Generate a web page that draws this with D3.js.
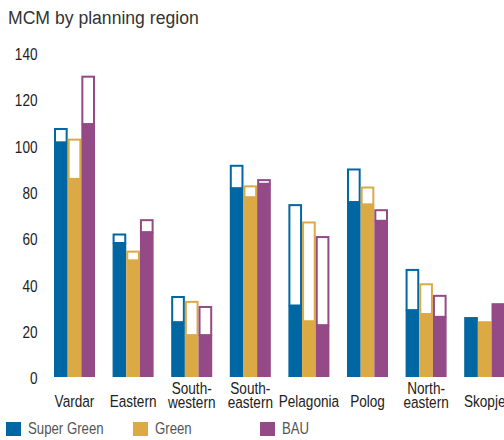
<!DOCTYPE html>
<html><head><meta charset="utf-8">
<script src="https://cdn.jsdelivr.net/npm/d3@7"></script>
<style>
html,body{margin:0;padding:0;background:#fff;}
svg{display:block;}
.narrow text{font-family:"Liberation Sans",Arial,sans-serif;}
</style></head>
<body>
<svg id="chart" width="504" height="440"></svg>
<script>
const regions = [["Vardar"],["Eastern"],["South-","western"],["South-","eastern"],["Pelagonia"],["Polog"],["North-","eastern"],["Skopje"]];
const seriesNames = ["Super Green","Green","BAU"];
const seriesColors = ["#0067a3","#dcaa45","#934a86"];
// filled (lower) values
const superGreenBase = [101.4, 57.9, 23.7, 81.6, 30.9, 75.6, 28.9, 25.9];
const greenBase      = [85.6, 50.4, 18.1, 77.7, 24.1, 74.6, 27.2, 24.1];
const bauBase        = [109.3, 62.6, 18.1, 83.5, 22.4, 67.5, 26.0, 31.9];
// outlined (upper) values
const superGreenTop  = [107.6, 62.0, 35.0, 91.7, 74.7, 90.1, 46.7, null];
const greenTop       = [103.0, 54.6, 32.9, 82.8, 67.2, 82.3, 40.5, null];
const bauTop         = [130.2, 68.2, 30.7, 85.5, 60.9, 72.5, 35.5, null];
const yTicks = [0,20,40,60,80,100,120,140];
const title = "MCM by planning region";

const bases = [superGreenBase, greenBase, bauBase];
const tops = [superGreenTop, greenTop, bauTop];
const SX = 0.8;

const svg = d3.select("#chart");
const x0 = d3.scaleBand().domain(d3.range(regions.length)).range([45.2, 45.2 + 58.6*8]).paddingInner(0.3).paddingOuter(0.15);
const x1 = d3.scaleBand().domain(d3.range(3)).range([0, x0.bandwidth()]);
const y = d3.scaleLinear().domain([0,140]).range([377, 53]);

svg.append("text").attr("x",8).attr("y",24).attr("fill","#333")
  .style("font-family","'Liberation Sans',Arial,sans-serif").style("font-size","17.6px").text(title);

function narrowText(parent, x, yy, str, anchor, color, size) {
  parent.append("g").attr("class","narrow").attr("transform",`translate(${x},${yy}) scale(${SX},1)`)
    .append("text").attr("text-anchor",anchor).attr("fill",color).style("font-size",size+"px").text(str);
}

// y axis (labels only, no lines)
const yAxis = svg.append("g").attr("transform","translate(37.5,0)")
  .call(d3.axisLeft(y).tickValues(yTicks).tickSize(0).tickPadding(0));
yAxis.select(".domain").remove();
yAxis.selectAll(".tick text").remove();
yAxis.selectAll(".tick").each(function(d){
  narrowText(d3.select(this), 0, 6.6, String(d), "end", "#222", 17);
});

const groups = svg.append("g").selectAll("g").data(d3.range(regions.length)).join("g")
  .attr("transform", i => `translate(${x0(i)},0)`);

for (let s = 0; s < 3; s++) {
  groups.append("rect")
    .attr("x", x1(s)).attr("width", x1.bandwidth())
    .attr("y", i => y(bases[s][i])).attr("height", i => y(0) - y(bases[s][i]))
    .attr("fill", seriesColors[s]);
  groups.filter(i => tops[s][i] != null).append("rect")
    .attr("x", x1(s) + 1).attr("width", x1.bandwidth() - 2)
    .attr("y", i => y(tops[s][i]) + 1).attr("height", i => y(bases[s][i]) - y(tops[s][i]) - 1)
    .attr("fill", "#fff").attr("stroke", seriesColors[s]).attr("stroke-width", 2);
}

const labelG = svg.append("g");
regions.forEach((lines, i) => {
  const cx = x0(i) + x0.bandwidth()/2;
  lines.forEach((l, k) => {
    const yy = lines.length === 1 ? 407.3 : (k === 0 ? 393.5 : 408);
    narrowText(labelG, cx, yy, l, "middle", "#222", 17);
  });
});

const legendX = [6, 133, 260];
const leg = svg.append("g").selectAll("g").data(seriesNames).join("g")
  .attr("transform", (d,i) => `translate(${legendX[i]},422)`);
leg.append("rect").attr("width",15).attr("height",14).attr("fill",(d,i)=>seriesColors[i]);
leg.each(function(d){ narrowText(d3.select(this), 22, 12, d, "start", "#555", 16.5); });
</script>
</body></html>
